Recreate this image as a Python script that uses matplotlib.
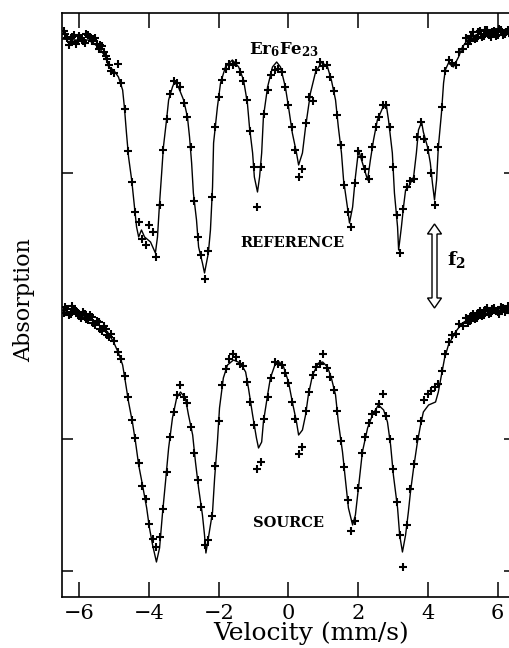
import matplotlib
matplotlib.use("Agg")
import matplotlib.pyplot as plt
from matplotlib.patches import Polygon
import numpy as np

# ---------------- data ----------------
# measured velocity channels (mm/s)
VEL = [-6.4, -6.3, -6.2, -6.1, -6.0, -5.9, -5.8, -5.7, -5.6, -5.5,
       -5.4, -5.3, -5.2, -5.1, -5.0, -4.9, -4.8, -4.7, -4.6, -4.5,
       -4.4, -4.3, -4.2, -4.1, -4.0, -3.9, -3.8, -3.7, -3.6, -3.5,
       -3.4, -3.3, -3.2, -3.1, -3.0, -2.9, -2.8, -2.7, -2.6, -2.5,
       -2.4, -2.3, -2.2, -2.1, -2.0, -1.9, -1.8, -1.7, -1.6, -1.5,
       -1.4, -1.3, -1.2, -1.1, -1.0, -0.9, -0.8, -0.7, -0.6, -0.5,
       -0.4, -0.3, -0.2, -0.1, 0.0, 0.1, 0.2, 0.3, 0.4, 0.5,
       0.6, 0.7, 0.8, 0.9, 1.0, 1.1, 1.2, 1.3, 1.4, 1.5,
       1.6, 1.7, 1.8, 1.9, 2.0, 2.1, 2.2, 2.3, 2.4, 2.5,
       2.6, 2.7, 2.8, 2.9, 3.0, 3.1, 3.2, 3.3, 3.4, 3.5,
       3.6, 3.7, 3.8, 3.9, 4.0, 4.1, 4.2, 4.3, 4.4, 4.5,
       4.6, 4.7, 4.8, 4.9, 5.0, 5.1, 5.2, 5.3, 5.4, 5.5,
       5.6, 5.7, 5.8, 5.9, 6.0, 6.1, 6.2, 6.3, 6.4]

# REFERENCE spectrum (upper), measured counts (arbitrary units, offset)
REF_DATA = [563, 552, 560, 553, 561, 556, 563, 560, 558, 553,
            552, 545, 538, 526, 524, 533, 514, 488, 446, 415,
            385, 375, 358, 352, 372, 365, 340, 392, 447, 478,
            503, 516, 514, 510, 494, 480, 450, 396, 360, 342,
            318, 346, 400, 470, 500, 517, 528, 533, 532, 534,
            525, 516, 497, 466, 430, 390, 430, 483, 507, 522,
            527, 528, 525, 510, 492, 470, 447, 420, 428, 474,
            500, 496, 527, 535, 531, 532, 520, 506, 482, 452,
            412, 385, 370, 414, 446, 440, 428, 418, 450, 470,
            480, 492, 492, 470, 430, 382, 344, 388, 410, 416,
            418, 460, 475, 458, 447, 424, 392, 450, 490, 526,
            537, 534, 532, 545, 548, 559, 556, 565, 559, 566,
            561, 567, 560, 566, 562, 567, 563, 567, 561]

# SOURCE spectrum (lower)
SRC_DATA = [290, 282, 291, 286, 281, 285, 278, 282, 274, 276,
            268, 271, 262, 263, 256, 245, 238, 221, 200, 177,
            159, 134, 111, 98, 73, 58, 50, 60, 88, 125,
            160, 185, 202, 212, 200, 194, 170, 144, 117, 90,
            52, 57, 81, 131, 176, 212, 228, 238, 243, 240,
            233, 231, 215, 195, 172, 128, 135, 178, 200, 219,
            235, 233, 232, 224, 214, 195, 178, 143, 150, 186,
            205, 222, 230, 233, 243, 229, 220, 207, 186, 156,
            130, 97, 66, 76, 109, 144, 160, 174, 183, 185,
            193, 203, 181, 158, 128, 95, 62, 30, 72, 108,
            133, 158, 176, 197, 203, 206, 210, 213, 226, 243,
            255, 262, 263, 273, 271, 279, 276, 283, 279, 286,
            282, 289, 284, 289, 285, 290, 285, 291, 286]

# extra (denser) channels in the flat wings of both spectra
EDGE_VEL = [-6.45, -6.35, -6.25, -6.15, -6.05, -5.95, -5.85, -5.75, -5.65, -5.55,
            -5.45, -5.35, -5.25, -5.15,
            5.15, 5.25, 5.35, 5.45, 5.55, 5.65, 5.75, 5.85, 5.95, 6.05,
            6.15, 6.25, 6.35, 6.45]
REF_EDGE = [566, 559, 555, 562, 556, 559, 554, 562, 556, 559,
            548, 551, 541, 532,
            553, 561, 558, 565, 560, 567, 562, 565, 561, 568,
            562, 565, 563, 566]
SRC_EDGE = [284, 288, 283, 288, 284, 279, 283, 277, 280, 272,
            275, 266, 268, 260,
            274, 281, 278, 284, 281, 287, 283, 288, 286, 283,
            289, 287, 284, 289]

# fitted curves (velocity, value)
REF_FIT_V = [-6.5, -6.11, -5.74, -5.45, -5.25, -5.16, -5.02, -4.88, -4.76, -4.71,
             -4.65, -4.59, -4.50, -4.42, -4.36, -4.30, -4.22, -4.13, -3.96, -3.82,
             -3.76, -3.70, -3.64, -3.59, -3.50, -3.44, -3.33, -3.27, -3.16, -3.01,
             -2.90, -2.84, -2.78, -2.73, -2.64, -2.58, -2.47, -2.41, -2.30, -2.24,
             -2.18, -2.15, -2.04, -1.95, -1.81, -1.61, -1.43, -1.29, -1.18, -1.12,
             -1.03, -0.98, -0.89, -0.83, -0.77, -0.72, -0.60, -0.46, -0.34, -0.23,
             -0.09, 0.00, 0.11, 0.23, 0.29, 0.40, 0.49, 0.63, 0.77, 0.95,
             1.12, 1.23, 1.35, 1.43, 1.52, 1.58, 1.69, 1.75, 1.84, 1.92,
             2.01, 2.27, 2.35, 2.44, 2.55, 2.70, 2.81, 2.87, 2.98, 3.04,
             3.13, 3.16, 3.24, 3.30, 3.36, 3.44, 3.59, 3.67, 3.73, 3.82,
             3.87, 3.99, 4.07, 4.13, 4.19, 4.25, 4.30, 4.39, 4.45, 4.50,
             4.59, 4.73, 4.88, 4.99, 5.14, 5.37, 5.74, 6.14, 6.5]
REF_FIT_Y = [558, 557, 557, 550, 540, 530, 527, 520, 507, 490,
             464, 440, 417, 390, 370, 360, 367, 360, 355, 344,
             360, 394, 424, 450, 477, 497, 510, 515, 510, 497,
             480, 460, 434, 404, 377, 350, 334, 324, 344, 367,
             410, 454, 490, 514, 530, 537, 530, 517, 494, 470,
             444, 420, 405, 420, 444, 480, 510, 530, 535, 530,
             510, 490, 464, 444, 432, 444, 470, 504, 524, 535,
             530, 517, 497, 470, 444, 417, 390, 374, 390, 420,
             447, 417, 437, 457, 477, 489, 491, 477, 444, 404,
             370, 347, 370, 390, 407, 410, 420, 444, 467, 475,
             465, 450, 434, 414, 397, 417, 450, 484, 514, 527,
             534, 530, 540, 550, 557, 562, 564, 565, 564]

SRC_FIT_V = [-6.5, -6.40, -6.11, -5.74, -5.45, -5.19, -5.02, -4.88, -4.76, -4.68,
             -4.59, -4.48, -4.39, -4.30, -4.19, -4.07, -3.99, -3.90, -3.79, -3.70,
             -3.62, -3.53, -3.44, -3.33, -3.21, -3.10, -2.96, -2.87, -2.75, -2.67,
             -2.58, -2.47, -2.41, -2.37, -2.30, -2.18, -2.12, -2.04, -1.98, -1.87,
             -1.75, -1.58, -1.38, -1.23, -1.15, -1.03, -0.92, -0.86, -0.77, -0.72,
             -0.60, -0.52, -0.37, -0.26, -0.14, 0.00, 0.11, 0.23, 0.29, 0.40,
             0.49, 0.57, 0.69, 0.86, 0.98, 1.12, 1.23, 1.35, 1.43, 1.55,
             1.64, 1.72, 1.84, 1.92, 2.01, 2.12, 2.27, 2.41, 2.58, 2.73,
             2.84, 2.93, 3.01, 3.13, 3.19, 3.27, 3.36, 3.44, 3.50, 3.59,
             3.70, 3.79, 3.87, 4.02, 4.22, 4.30, 4.39, 4.48, 4.59, 4.79,
             4.99, 5.28, 5.65, 6.03, 6.5]
SRC_FIT_Y = [287, 285, 284, 279, 272, 265, 255, 244, 232, 215,
             195, 175, 155, 132, 112, 89, 69, 52, 35, 49,
             82, 115, 149, 179, 199, 205, 199, 182, 162, 135,
             109, 82, 62, 44, 59, 85, 119, 155, 189, 219,
             232, 237, 234, 225, 209, 182, 159, 149, 155, 175,
             202, 219, 234, 235, 230, 215, 195, 175, 162, 167,
             182, 202, 222, 234, 235, 230, 219, 202, 175, 145,
             115, 89, 72, 82, 110, 145, 169, 182, 192, 187,
             175, 152, 122, 89, 62, 45, 62, 85, 105, 129,
             155, 172, 185, 192, 195, 205, 222, 239, 252, 265,
             274, 280, 285, 287, 287]

X_TICKS = [-6, -4, -2, 0, 2, 4, 6]
X_TICK_LABELS = ['\u22126', '\u22124', '\u22122', '0', '2', '4', '6']
Y_TICKS = [26, 158, 424]

# ---------------- figure ----------------
plt.rcParams['font.family'] = ['DejaVu Serif']
plt.rcParams['mathtext.fontset'] = 'dejavuserif'

fig = plt.figure(figsize=(5.1, 6.48), dpi=100)
ax = fig.add_axes([62 / 510, 51 / 648, 453 / 510, 584 / 648])
ax.set_xlim(-6.5, 6.5)
ax.set_ylim(0, 584)

ax.plot(REF_FIT_V, REF_FIT_Y, color='black', lw=1.0, zorder=2)
ax.plot(SRC_FIT_V, SRC_FIT_Y, color='black', lw=1.0, zorder=2)
mk = dict(linestyle='none', marker='+', ms=6, mew=1.5, color='black', zorder=3)
ax.plot(VEL, REF_DATA, **mk)
ax.plot(VEL, SRC_DATA, **mk)
ax.plot(EDGE_VEL, REF_EDGE, **mk)
ax.plot(EDGE_VEL, SRC_EDGE, **mk)

ax.set_xticks(X_TICKS)
ax.set_xticklabels(X_TICK_LABELS)
ax.set_yticks(Y_TICKS)
ax.set_yticklabels([])
ax.tick_params(axis='x', direction='in', length=11, width=1.1, top=True,
               labelsize=15, pad=5)
ax.tick_params(axis='y', direction='in', length=8, width=1.1, right=True)
for sp in ax.spines.values():
    sp.set_linewidth(1.2)

ax.set_xlabel('Velocity (mm/s)', fontsize=18)
ax.xaxis.set_label_coords(0.55, -0.042)
ax.set_ylabel('Absorption', fontsize=16)
ax.yaxis.set_label_coords(-0.06, 0.509)

ax.text(-0.14, 547, r'$\mathbf{Er_6Fe_{23}}$', fontsize=12,
        ha='center', va='center')
ax.text(0.11, 354, 'REFERENCE', fontsize=10.5, fontweight='bold',
        ha='center', va='center')
ax.text(0.0, 74, 'SOURCE', fontsize=10.5, fontweight='bold',
        ha='center', va='center')
ax.text(4.55, 337, r'$\mathbf{f_2}$', fontsize=14, ha='left', va='center')

# hollow double-headed arrow between the spectra
fig.canvas.draw()
cx, yt = ax.transData.transform((4.19, 373))
_, yb = ax.transData.transform((4.19, 289))
hw, sw, hl = 7.0, 2.5, 10.0
verts = [(cx, yt), (cx + hw, yt - hl), (cx + sw, yt - hl), (cx + sw, yb + hl),
         (cx + hw, yb + hl), (cx, yb), (cx - hw, yb + hl), (cx - sw, yb + hl),
         (cx - sw, yt - hl), (cx - hw, yt - hl)]
arrow = Polygon(verts, closed=True, facecolor='white', edgecolor='black',
                lw=1.0, transform=None, zorder=4)
fig.add_artist(arrow)

fig.savefig('out.png', dpi=100)
